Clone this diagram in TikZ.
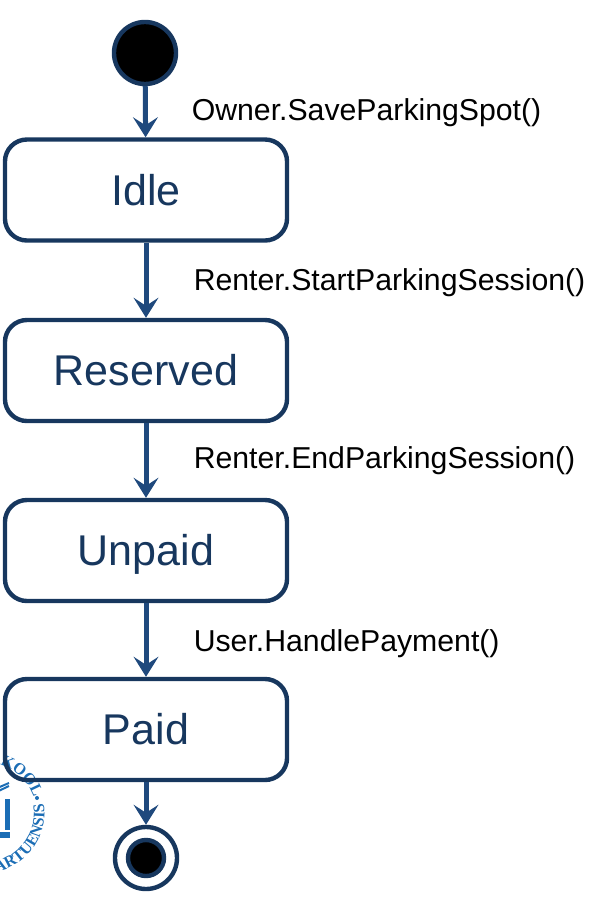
\documentclass[tikz,border=0pt]{standalone}
\usepackage{fontspec}
\setmainfont{Liberation Sans}
\newfontfamily\sealfont{Liberation Serif}
\usetikzlibrary{arrows.meta,decorations.text}
\definecolor{boxnavy}{HTML}{17375E}
\definecolor{arrowblue}{HTML}{1F497D}
\definecolor{sealblue}{HTML}{1B6DB5}
\tikzset{
  state/.style={draw=boxnavy,line width=0.11cm,rounded corners=0.55cm,
    minimum width=7.05cm,minimum height=2.525cm,text=boxnavy,
    text height=0.75cm,text depth=0cm,inner sep=0pt,
    font=\fontsize{30.6}{36}\selectfont},
  startdot/.style={circle,draw=boxnavy,line width=0.11cm,fill=black,inner sep=0pt,minimum size=1.55cm},
  finalring/.style={circle,draw=boxnavy,line width=0.11cm,fill=white,inner sep=0pt,minimum size=1.55cm},
  finaldot/.style={circle,draw=boxnavy,line width=0.11cm,fill=black,inner sep=0pt,minimum size=0.9cm},
  trans/.style={draw=arrowblue,line width=0.125cm,-{Stealth[length=0.5cm,width=0.62cm,inset=0.2cm]}},
  event/.style={anchor=base west,inner sep=0pt,font=\fontsize{21.5}{26}\selectfont}
}
\begin{document}
\begin{tikzpicture}[x=0.025cm,y=-0.025cm]
\useasboundingbox (0,0) rectangle (609,902);
% seal in the corner
\begin{scope}
\clip (0,0) rectangle (609,902);
\fill[sealblue] (0,832) rectangle (10,838);
\fill[sealblue] (5,799) rectangle (10,830);
\draw[sealblue,line width=0.05cm] (-12,796) -- (9,786);
\draw[sealblue,line width=0.05cm] (-12,792) -- (9,783);
\path[decorate,decoration={text along path,text color=sealblue,
  text={|\sealfont\bfseries\fontsize{11.5}{13}\selectfont|KOOL}}]
  (0,765) arc[start angle=73,end angle=18,radius=52*0.025cm];
\path[decorate,decoration={text along path,text color=sealblue,
  text={|\sealfont\bfseries\fontsize{11.5}{13}\selectfont|ARTUENSIS}}]
  (-4,872) arc[start angle=-79,end angle=8,radius=60*0.025cm];
\node[circle,fill=sealblue,inner sep=0pt,minimum size=0.1cm] (sealdot) at (37,798) {};
\end{scope}
% states
\node[startdot] (init) at (145,53) {};
\node[state] (idle) at (146,190) {Idle};
\node[state] (reserved) at (146,370.5) {Reserved};
\node[state] (unpaid) at (146,550.5) {Unpaid};
\node[state] (paid) at (146,729.5) {Paid};
\node[finalring] (final) at (146,858) {};
\node[finaldot] (finalin) at (final.center) {};
% transitions
\draw[trans] (init) -- (idle);
\draw[trans] (idle) -- (reserved);
\draw[trans] (reserved) -- (unpaid);
\draw[trans] (unpaid) -- (paid);
\draw[trans] (paid) -- (final);
% labels
\node[event] (savelabel) at (191.5,120) {Owner.SaveParkingSpot()};
\node[event] (startlabel) at (193.5,290) {Renter.StartParkingSession()};
\node[event] (endlabel) at (193.5,468) {Renter.EndParkingSession()};
\node[event] (paylabel) at (193.5,651) {User.HandlePayment()};
\end{tikzpicture}
\end{document}
